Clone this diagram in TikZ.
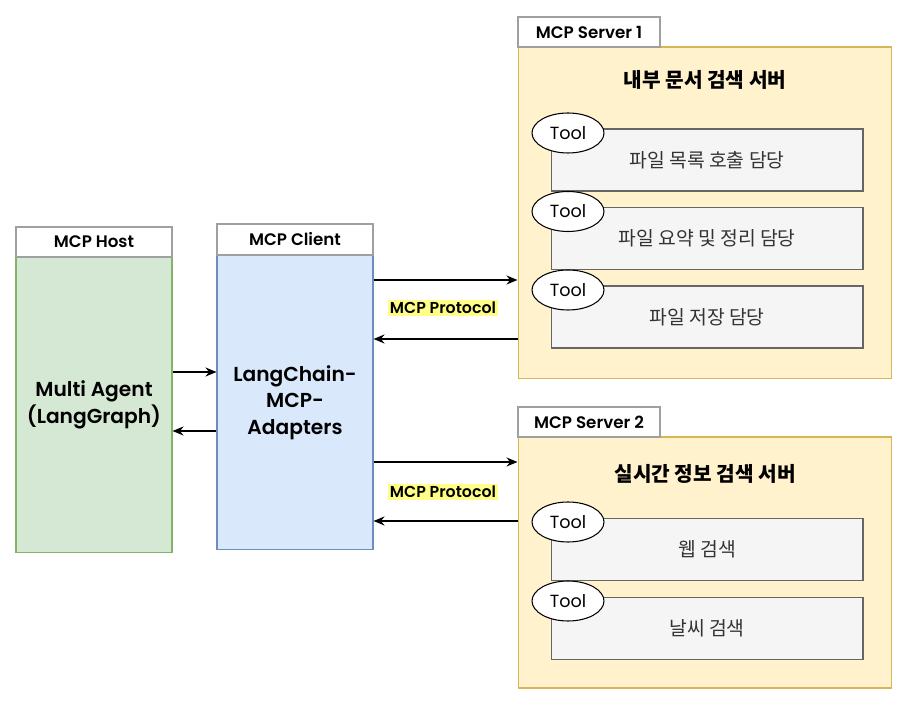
\documentclass[tikz,border=0pt]{standalone}
\usepackage{fontspec}
\setmainfont{Poppins}[BoldFont={Poppins SemiBold}]
\newfontfamily\kr{Noto Sans CJK KR}
\usetikzlibrary{arrows.meta,shapes.geometric}

\definecolor{hostfill}{HTML}{D5E8D4}
\definecolor{hostline}{HTML}{82B366}
\definecolor{clientfill}{HTML}{DAE8FC}
\definecolor{clientline}{HTML}{6C8EBF}
\definecolor{serverfill}{HTML}{FFF2CC}
\definecolor{serverline}{HTML}{D6B656}
\definecolor{toolfill}{HTML}{F5F5F5}
\definecolor{toolline}{HTML}{666666}
\definecolor{titleline}{HTML}{A0A0A0}
\definecolor{marker}{HTML}{FFFF88}

\tikzset{
  titlebox/.style={draw=titleline, fill=white, line width=0.6pt, inner sep=0pt,
    minimum height=0.6cm, font=\bfseries\fontsize{9.5}{11}\selectfont},
  bigbox/.style={line width=0.6pt, inner sep=0pt, align=center,
    font=\bfseries\fontsize{11.5}{15}\selectfont},
  toolbox/.style={draw=toolline, fill=toolfill, line width=0.6pt, inner sep=0pt,
    minimum width=6.24cm, minimum height=1.24cm, text=black!80,
    font=\kr\fontsize{11}{13}\selectfont},
  tooltag/.style={ellipse, draw, fill=white, line width=0.6pt, inner sep=0pt,
    minimum width=1.44cm, minimum height=0.8cm, font=\fontsize{10}{12}\selectfont},
  heading/.style={font=\kr\bfseries\fontsize{11.5}{13}\selectfont},
  proto/.style={fill=marker, inner sep=1pt, font=\bfseries\fontsize{9}{11}\selectfont},
  flow/.style={-{Stealth[length=2.2mm,width=1.8mm]}, line width=0.9pt}
}

\begin{document}
\begin{tikzpicture}[x=0.02cm,y=-0.02cm]
\useasboundingbox (0,0) rectangle (910,705);

% host and client
\node[bigbox, draw=hostline, fill=hostfill, minimum width=3.12cm, minimum height=5.92cm]
  (host) at (94,405) {Multi Agent\\(LangGraph)};
\node[titlebox, minimum width=3.12cm] (hosttitle) at (94,242) {MCP Host};

\node[bigbox, draw=clientline, fill=clientfill, minimum width=3.12cm, minimum height=5.9cm]
  (client) at (295,402.5) {LangChain-\\MCP-\\Adapters};
\node[titlebox, minimum width=3.12cm, minimum height=0.62cm] (clienttitle) at (295,239.5) {MCP Client};

% server 1
\node[draw=serverline, fill=serverfill, line width=0.6pt, minimum width=7.48cm, minimum height=6.64cm]
  (s1) at (705,213) {};
\node[titlebox, minimum width=2.84cm] (s1title) at (589,32) {MCP Server 1};
\node[heading] (s1head) at (705,80) {내부 문서 검색 서버};

\foreach \i/\y/\txt in {1/160/{파일 목록 호출 담당}, 2/238.5/{파일 요약 및 정리 담당}, 3/317/{파일 저장 담당}} {
  \node[toolbox] (s1t\i) at (707,\y) {\txt};
  \node[tooltag] (s1e\i) at (568,\y-27) {Tool};
}

% server 2
\node[draw=serverline, fill=serverfill, line width=0.6pt, minimum width=7.48cm, minimum height=5.02cm]
  (s2) at (705,562.5) {};
\node[titlebox, minimum width=2.84cm] (s2title) at (589,422) {MCP Server 2};
\node[heading] (s2head) at (705,474) {실시간 정보 검색 서버};

\foreach \i/\y/\txt in {1/549.5/{웹 검색}, 2/628.5/{날씨 검색}} {
  \node[toolbox] (s2t\i) at (707,\y) {\txt};
  \node[tooltag] (s2e\i) at (568,\y-27.5) {Tool};
}

% connectors
\draw[flow] (host.east |- 0,372) -- (client.west |- 0,372);
\draw[flow] (client.west |- 0,431) -- (host.east |- 0,431);

\draw[flow] (client.east |- 0,280) -- (s1.west |- 0,280);
\draw[flow] (s1.west |- 0,339) -- (client.east |- 0,339);
\node[proto] (p1) at (443,308) {MCP Protocol};

\draw[flow] (client.east |- 0,462) -- (s2.west |- 0,462);
\draw[flow] (s2.west |- 0,521) -- (client.east |- 0,521);
\node[proto] (p2) at (443,492) {MCP Protocol};

\end{tikzpicture}
\end{document}
